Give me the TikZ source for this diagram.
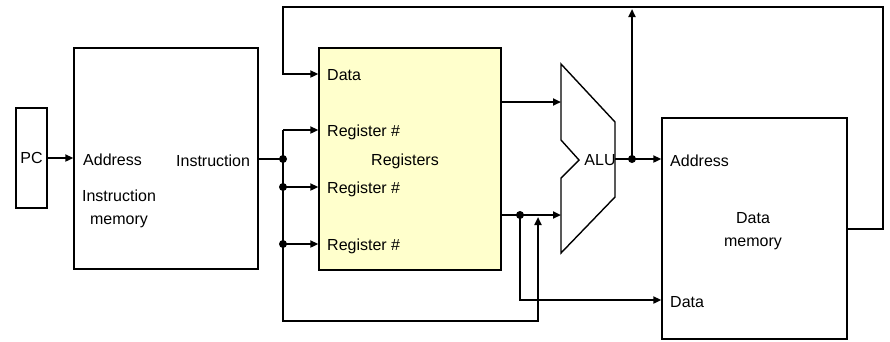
\documentclass[tikz,border=0pt]{standalone}
\usepackage{fontspec}
\setmainfont{Liberation Sans}
\usetikzlibrary{arrows.meta}
\definecolor{regfill}{HTML}{FFFFCC}
\begin{document}
\begin{tikzpicture}[x=1pt,y=-1pt,
  blk/.style={draw=black, line width=1.4pt, rectangle, inner sep=0pt},
  lbl/.style={font=\fontsize{16}{23}\selectfont, inner sep=0pt, anchor=west},
  clbl/.style={font=\fontsize{16}{23}\selectfont, inner sep=0pt, align=center},
  wire/.style={line width=2.8pt, line join=miter},
  arr/.style={wire, -{Triangle[length=8pt,width=7pt]}},
  dot/.style={circle, fill=black, inner sep=0pt, minimum size=8pt}]
\useasboundingbox (0,0) rectangle (890,341);
\fill[white] (0,0) rectangle (890,341);
% blocks
\node[blk, minimum width=31, minimum height=100] (pc) at (31.5,158) {};
\node[clbl] at (pc.center) {PC};
\node[blk, minimum width=184, minimum height=221] (imem) at (166,158.5) {};
\node[blk, fill=regfill, minimum width=182, minimum height=222] (regs) at (410,159) {};
\node[blk, minimum width=185, minimum height=221] (dmem) at (754.5,228.5) {};
% ALU
\coordinate (a1) at (561,64);
\coordinate (a2) at (615,122);
\coordinate (a3) at (615,197);
\coordinate (a4) at (561,253);
\coordinate (a5) at (561,178);
\coordinate (a6) at (579,160);
\coordinate (a7) at (561,140);
\draw[line width=1.4pt, line join=miter] (a1) -- (a2) -- (a3) -- (a4) -- (a5) -- (a6) -- (a7) -- cycle;
\node[clbl] (alu) at (600,160) {ALU};
% labels
\node[lbl] (iaddr) at (83,160) {Address};
\node[lbl] (iinst) at (176,161) {Instruction};
\node[clbl] (iname) at (119,209) {Instruction\\memory};
\node[lbl] (rdata) at (327,75) {Data};
\node[lbl] (rr1) at (327,132) {Register \#};
\node[clbl] (rname) at (405,161) {Registers};
\node[lbl] (rr2) at (327,189) {Register \#};
\node[lbl] (rr3) at (327,246) {Register \#};
\node[lbl] (daddr) at (670,161) {Address};
\node[clbl] (dname) at (753,231) {Data\\memory};
\node[lbl] (ddata) at (670,302) {Data};
% coordinates
\coordinate (j1) at (283,159);
\coordinate (j2) at (283,187);
\coordinate (j3) at (283,244);
\coordinate (btop) at (283,130);
\coordinate (bbot) at (283,321);
\coordinate (bcor) at (538,321);
\coordinate (bend) at (538,217);
\coordinate (ro1) at (501,102);
\coordinate (ro2) at (501,215);
\coordinate (ai1) at (561,102);
\coordinate (ai2) at (561,215);
\coordinate (j4) at (520,215);
\coordinate (j4d) at (520,300);
\coordinate (aout) at (615,159);
\coordinate (j5) at (632,159);
\coordinate (j5t) at (632,9);
\coordinate (dout) at (847,229);
\coordinate (rc1) at (883,229);
\coordinate (rc2) at (883,7);
\coordinate (rc3) at (283,7);
\coordinate (rc4) at (283,74);
% wires
\draw[arr] (pc.east) -- (pc.east -| imem.west);
\draw[wire] (imem.east |- j1) -- (j1);
\draw[arr] (btop) -- (bbot) -- (bcor) -- (bend);
\draw[arr] (btop) -- (btop -| regs.west);
\draw[arr] (j2) -- (j2 -| regs.west);
\draw[arr] (j3) -- (j3 -| regs.west);
\draw[arr] (dout) -- (rc1) -- (rc2) -- (rc3) -- (rc4) -- (rc4 -| regs.west);
\draw[arr] (ro1) -- (ai1);
\draw[arr] (ro2) -- (ai2);
\draw[arr] (j4) -- (j4d) -- (j4d -| dmem.west);
\draw[arr] (aout) -- (aout -| dmem.west);
\draw[arr] (j5) -- (j5t);
\node[dot] at (j1) {};
\node[dot] at (j2) {};
\node[dot] at (j3) {};
\node[dot] at (j4) {};
\node[dot] at (j5) {};
\end{tikzpicture}
\end{document}
